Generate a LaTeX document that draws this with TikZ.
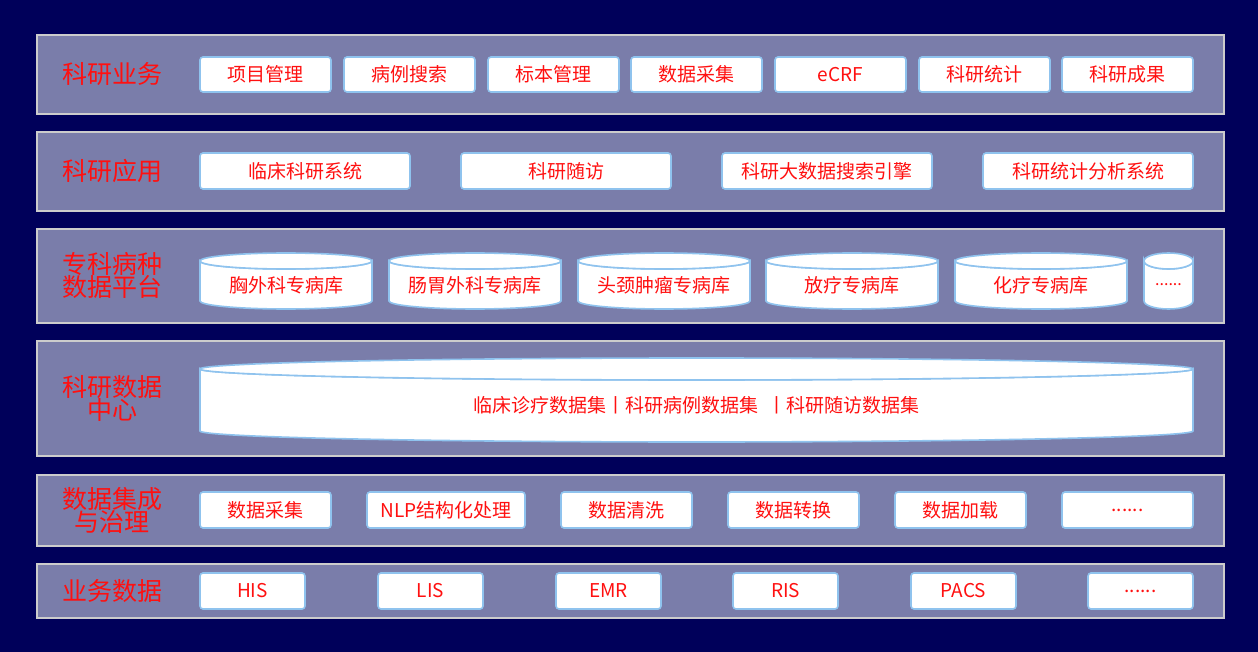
\documentclass[tikz,border=0pt]{standalone}
\usepackage{fontspec}
\setmainfont{Noto Sans CJK SC}
\definecolor{bg}{HTML}{00005A}
\definecolor{band}{HTML}{7A7DAA}
\definecolor{glow}{HTML}{8FC3EE}
\definecolor{txt}{HTML}{FF1010}
\tikzset{
 bandbox/.style={fill=band,draw=black!20,line width=1.2pt},
 lbl/.style={text=txt,font=\fontsize{25}{29}\selectfont,align=center},
 itemtxt/.style={text=txt,font=\fontsize{19}{22}\selectfont},
 itembox/.style={fill=white,draw=glow,line width=1.6pt,rounded corners=3pt},
 cyl/.style={fill=white,draw=glow,line width=1.6pt},
}
\newcommand\itm[6]{% name x1 x2 y1 y2 text
 \draw[itembox] (#2,#4) rectangle (#3,#5);
 \node[itemtxt] (#1) at ({(#2+#3)/2},{(#4+#5)/2}) {#6};}
\newcommand\cyli[7]{% name x1 x2 y1 y2 ry text
 \pgfmathsetmacro\rx{(#3-#2)/2}\pgfmathsetmacro\cx{(#2+#3)/2}
 \draw[cyl] (#2,#4+#6) -- (#2,#5-#6) arc[start angle=180,end angle=0,x radius=\rx,y radius=#6] -- (#3,#4+#6) arc[start angle=0,end angle=180,x radius=\rx,y radius=#6] -- cycle;
 \draw[cyl] (\cx,#4+#6) ellipse[x radius=\rx,y radius=#6];
 \node[itemtxt] (#1) at (\cx,{(#4+#5)/2+#6/2}) {#7};}
\begin{document}
\begin{tikzpicture}[x=1pt,y=-1pt]
\fill[bg] (0,0) rectangle (1258,652);
\useasboundingbox (0,0) rectangle (1258,652);
\draw[bandbox] (37,35) rectangle (1224,114);
\draw[bandbox] (37,132) rectangle (1224,211);
\draw[bandbox] (37,229) rectangle (1224,323);
\draw[bandbox] (37,341) rectangle (1224,456);
\draw[bandbox] (37,475) rectangle (1224,546);
\draw[bandbox] (37,564) rectangle (1224,618);
\node[lbl] (l1) at (112,74) {科研业务};
\node[lbl] (l2) at (112,171) {科研应用};
\node[lbl] (l3) at (112,276) {专科病种\\[-6pt]数据平台};
\node[lbl] (l4) at (112,398) {科研数据\\[-6pt]中心};
\node[lbl] (l5) at (112,510) {数据集成\\[-6pt]与治理};
\node[lbl] (l6) at (112,591) {业务数据};
\itm{a1}{200}{331}{57}{92}{项目管理}
\itm{a2}{344}{475}{57}{92}{病例搜索}
\itm{a3}{488}{619}{57}{92}{标本管理}
\itm{a4}{631}{762}{57}{92}{数据采集}
\itm{a5}{775}{906}{57}{92}{eCRF}
\itm{a6}{919}{1050}{57}{92}{科研统计}
\itm{a7}{1062}{1193}{57}{92}{科研成果}
\itm{b1}{200}{410}{153}{189}{临床科研系统}
\itm{b2}{461}{671}{153}{189}{科研随访}
\itm{b3}{722}{932}{153}{189}{科研大数据搜索引擎}
\itm{b4}{983}{1193}{153}{189}{科研统计分析系统}
\cyli{c1}{200}{372}{253}{309}{8}{胸外科专病库}
\cyli{c2}{389}{561}{253}{309}{8}{肠胃外科专病库}
\cyli{c3}{578}{750}{253}{309}{8}{头颈肿瘤专病库}
\cyli{c4}{766}{938}{253}{309}{8}{放疗专病库}
\cyli{c5}{955}{1127}{253}{309}{8}{化疗专病库}
\cyli{c6}{1144}{1193}{253}{309}{8}{\fontsize{16}{18}\selectfont ......}
\cyli{d1}{200}{1193}{358}{442}{11}{临床诊疗数据集丨科研病例数据集\ \ 丨科研随访数据集}
\itm{e1}{200}{331}{492}{528}{数据采集}
\itm{e2}{367}{525}{492}{528}{NLP结构化处理}
\itm{e3}{561}{692}{492}{528}{数据清洗}
\itm{e4}{728}{859}{492}{528}{数据转换}
\itm{e5}{895}{1026}{492}{528}{数据加载}
\itm{e6}{1062}{1193}{492}{528}{......}
\itm{f1}{200}{305}{573}{609}{HIS}
\itm{f2}{378}{483}{573}{609}{LIS}
\itm{f3}{556}{661}{573}{609}{EMR}
\itm{f4}{733}{838}{573}{609}{RIS}
\itm{f5}{911}{1016}{573}{609}{PACS}
\itm{f6}{1088}{1193}{573}{609}{......}
\end{tikzpicture}
\end{document}
